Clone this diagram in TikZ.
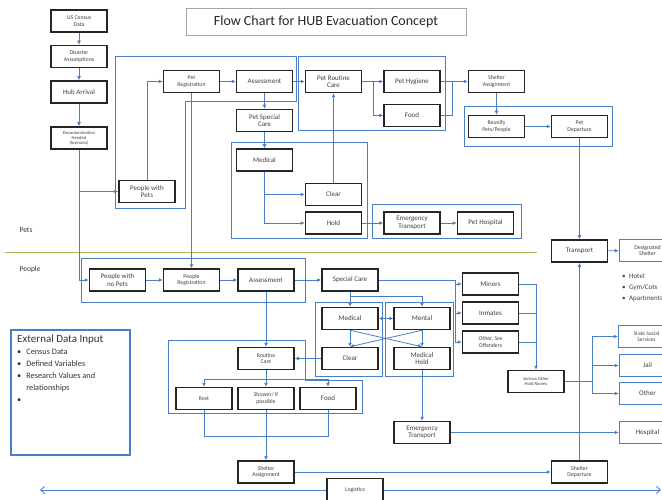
\documentclass[tikz,border=0pt]{standalone}
\usepackage{fontspec}
\setmainfont{Carlito}
\usetikzlibrary{arrows.meta,calc}
\definecolor{flowblue}{RGB}{74,126,198}
\definecolor{lanegreen}{RGB}{155,187,89}

\begin{document}
\begin{tikzpicture}[x=1pt, y=-1pt, every node/.style={text=black!75}]
  \clip (0,0) rectangle (662,500);
  \tikzset{
    box/.style={draw=black!85, line width=1.5pt, fill=white, minimum width=56pt,
                minimum height=22pt, inner sep=1pt, align=center,
                font=\fontsize{7}{7.6}\selectfont},
    small/.style={font=\fontsize{5.8}{6.4}\selectfont},
    tiny/.style={font=\fontsize{4.6}{5.2}\selectfont},
    dest/.style={box, draw=flowblue},
    grp/.style={draw=flowblue, line width=0.9pt},
    conn/.style={draw=flowblue, line width=0.8pt, -{Latex[length=4pt,width=4pt]}},
    link/.style={draw=flowblue, line width=0.8pt},
    lane/.style={font=\fontsize{7.5}{8}\selectfont, text=black!80}
  }

  % groups behind the steps
  \draw[grp] (115,56) -- (296,56) -- (296,101) -- (185,101) -- (185,208) -- (115,208) -- cycle;
  \draw[grp] (298,56) rectangle (445,130);
  \draw[grp] (464,106) rectangle (612,146);
  \draw[grp] (231,142) rectangle (367,238);
  \draw[grp] (372,204) rectangle (521,238);
  \draw[grp] (81,258) rectangle (305,302);
  \draw[grp] (168,340) -- (305,340) -- (305,380) -- (362,380) -- (362,413) -- (168,413) -- cycle;
  \draw[grp] (315,302) rectangle (382,376);
  \draw[grp] (385,302) rectangle (453,376);

  \draw[lanegreen, line width=1pt] (5,252) -- (537,252);
  \node[lane] (petslane) at (26,230) {Pets};
  \node[lane] (peoplelane) at (30,270) {People};

  \node[draw=gray!70, line width=0.6pt, minimum width=280pt, minimum height=27pt,
        font=\fontsize{14}{16}\selectfont, text=black!85] (title) at (326,21.5)
        {Flow Chart for HUB Evacuation Concept};

  % hub intake
  \node[box, small] (census) at (79,21) {US Census\\Data};
  \node[box, small] (disaster) at (79,56.5) {Disaster\\Assumptions};
  \node[box] (hub) at (79,92) {Hub Arrival};
  \node[box, tiny] (decon) at (79,138) {Decontamination\\Needed\\(Scenario)};

  % pets
  \node[box] (pwp) at (147,191.5) {People with\\Pets};
  \node[box, small] (petreg) at (191.5,81.5) {Pet\\Registration};
  \node[box] (petassess) at (264.5,81.5) {Assessment};
  \node[box] (petspecial) at (264.5,120.5) {Pet Special\\Care};
  \node[box] (petroutine) at (333.5,81.5) {Pet Routine\\Care};
  \node[box] (pethyg) at (412,81.5) {Pet Hygiene};
  \node[box] (petfood) at (412,115.5) {Food};
  \node[box, small] (petshelter) at (496.5,81.5) {Shelter\\Assignment};
  \node[box, small] (reunify) at (496.5,126.5) {Reunify\\Pets/People};
  \node[box, small] (petdep) at (579.5,126.5) {Pet\\Departure};
  \node[box] (petmed) at (264.5,160) {Medical};
  \node[box] (petclear) at (333.5,194.5) {Clear};
  \node[box] (pethold) at (333.5,223) {Hold};
  \node[box] (petemerg) at (412,223) {Emergency\\Transport};
  \node[box] (pethosp) at (485.5,223) {Pet Hospital};

  % people
  \node[box] (pnp) at (117.5,280) {People with\\no Pets};
  \node[box, small] (pplreg) at (191.5,280) {People\\Registration};
  \node[box] (pplassess) at (266,280) {Assessment};
  \node[box] (special) at (350,280) {Special Care};
  \node[box] (minors) at (490.5,284) {Minors};
  \node[box] (inmates) at (490.5,313) {Inmates};
  \node[box, small] (othersex) at (490.5,342) {Other, Sex\\Offenders};
  \node[box] (medical) at (350,318.5) {Medical};
  \node[box] (mental) at (422,318.5) {Mental};
  \node[box] (clear) at (350,358.5) {Clear};
  \node[box] (medhold) at (422,358.5) {Medical\\Hold};
  \node[box, small] (routine) at (266,358.5) {Routine\\Care};
  \node[box, small] (rest) at (204,398.5) {Rest};
  \node[box, small] (shower) at (266,398.5) {Shower/ if\\possible};
  \node[box] (food) at (328,398.5) {Food};
  \node[box, small] (shelter) at (266,472) {Shelter\\Assignment};
  \node[box] (emerg) at (422,432.5) {Emergency\\Transport};
  \node[box, tiny] (various) at (536,381.5) {Various Other\\Hold Rooms};
  \node[box] (transport) at (579.5,251) {Transport};
  \node[box, small] (departure) at (579.5,472) {Shelter\\Departure};
  \node[box, small, minimum height=23pt] (logistics) at (355,490) {Logistics};

  \node[dest, small] (designated) at (647.5,250.5) {Designated\\Shelter};
  \node[dest, font=\fontsize{5.5}{6.2}\selectfont] (social) at (646.5,336.5) {State Social\\Services};
  \node[dest] (jail) at (647.5,365.5) {Jail};
  \node[dest] (otherdest) at (647.5,393.5) {Other};
  \node[dest] (hospital) at (647.5,432.5) {Hospital};

  \node[anchor=west, inner sep=0pt, font=\fontsize{7}{11}\selectfont] (shelteropts) at (622,287)
    {\begin{tabular}{@{}l@{\hspace{3.5pt}}l@{}}
      \textbullet & Hotel\\ \textbullet & Gym/Cots\\ \textbullet & Apartments
     \end{tabular}};

  \draw[flowblue, line width=1.4pt] (11,330) rectangle (130,455);
  \node[anchor=north west, inner sep=0pt, font=\fontsize{8.3}{12}\selectfont, text=black!80] (extdata) at (17,334)
    {\begin{tabular}{@{}l@{\hspace{5pt}}l@{}}
      \multicolumn{2}{@{}l}{\fontsize{11}{14}\selectfont External Data Input}\\
      \textbullet & Census Data\\ \textbullet & Defined Variables\\
      \textbullet & Research Values and\\ & relationships\\ \textbullet &
     \end{tabular}};

  % intake flow
  \draw[conn] (census) -- (disaster);
  \draw[conn] (disaster) -- (hub);
  \draw[conn] (hub) -- (decon);
  \draw[conn] (decon.south) |- (pnp.west);
  \draw[conn] (decon.south |- pwp.west) -- (pwp.west);

  % pet flow
  \draw[conn] (pwp.north) |- (petreg.west);
  \draw[conn] (petreg) -- (petassess);
  \draw[conn] (petassess) -- (petspecial);
  \draw[conn] (petassess) -- (petroutine);
  \draw[conn] (petreg.south) -- (pplreg.north);
  \draw[conn] (petspecial) -- (petmed);
  \draw[conn] (petmed.south) |- (petclear.west);
  \draw[conn] (petmed.south) |- (pethold.west);
  \draw[conn] (petclear) -- (petroutine);
  \draw[conn] (pethold) -- (petemerg);
  \draw[conn] (petemerg) -- (pethosp);
  \draw[conn] (petroutine) -- (pethyg);
  \draw[conn] (petroutine.east) -- ++(11,0) |- (petfood.west);
  \draw[conn] (pethyg) -- (petshelter);
  \draw[link] (petfood.east) -- ++(12,0) |- (pethyg.east);
  \draw[conn] (petshelter) -- (reunify);
  \draw[conn] (reunify) -- (petdep);
  \draw[conn] (petdep) -- (transport);

  % people flow
  \draw[conn] (pnp) -- (pplreg);
  \draw[conn] (pplreg) -- (pplassess);
  \draw[conn] (pplassess) -- (special);
  \draw[conn] (pplassess) -- (routine);
  \draw[conn] (special) -- (medical);
  \draw[conn] ($(special.south)+(0,5)$) -| (mental.north);
  \draw[conn, {Latex[length=4pt,width=4pt]}-{Latex[length=4pt,width=4pt]}] (medical) -- (mental);
  \draw[conn] (medical) -- (clear);
  \draw[conn] (mental) -- (medhold);
  \draw[conn] (medical.south) -- (medhold.north);
  \draw[conn] (mental.south) -- (clear.north);
  \draw[conn] (clear) -- (routine);
  \draw[conn] (routine) -- (shower);
  \draw[conn] ($(routine.south)+(0,9)$) -| (rest.north);
  \draw[conn] ($(routine.south)+(0,9)$) -| (food.north);
  \draw[link] (rest.south) -- ++(0,26) -| (food.south);
  \draw[conn] (shower) -- (shelter);
  \draw[conn] (shelter) -- (departure);
  \draw[conn] (departure) -- (transport);
  \draw[conn] (transport) -- (designated);
  \draw[conn] (special.east) -- ++(77,0) coordinate (holdsplit) |- (minors.west);
  \draw[conn] (holdsplit) |- (inmates.west);
  \draw[conn] (holdsplit) |- (othersex.west);
  \draw[conn] (minors.east) -| (various.north);
  \draw[link] (inmates.east) -- (inmates.east -| various.north);
  \draw[link] (othersex.east) -- (othersex.east -| various.north);
  \draw[conn] (various.east) -- ++(28,0) coordinate (destsplit) |- (social.west);
  \draw[conn] (destsplit) |- (jail.west);
  \draw[conn] (destsplit) |- (otherdest.west);
  \draw[conn] (medhold) -- (emerg);
  \draw[conn] (emerg) -- (hospital);

  \coordinate (logleft) at (40,490);
  \coordinate (logright) at (661,490);
  \draw[link, -{Straight Barb[length=4pt,width=7pt]}] (logistics.west) -- (logleft);
  \draw[link, -{Straight Barb[length=4pt,width=7pt]}] (logistics.east) -- (logright);
\end{tikzpicture}
\end{document}
